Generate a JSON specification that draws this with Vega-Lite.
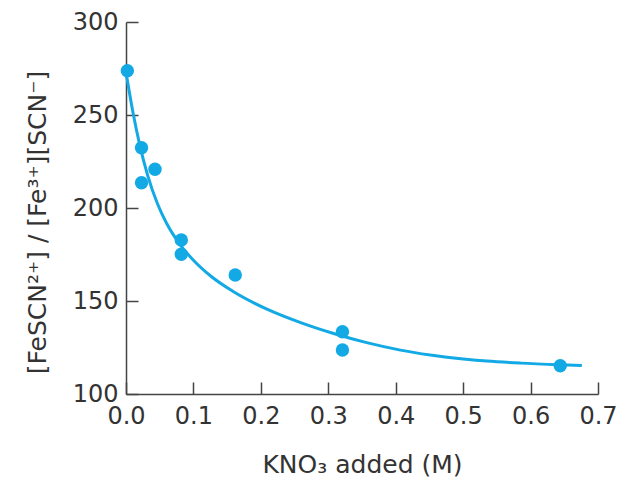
{
  "$schema": "https://vega.github.io/schema/vega-lite/v6.json",
  "width": 472,
  "height": 372,
  "autosize": "none",
  "padding": {"left": 126, "top": 22, "right": 21, "bottom": 89},
  "background": "white",
  "config": {
    "view": {"stroke": null},
    "axis": {
      "grid": false,
      "domainColor": "#444",
      "domainWidth": 1.5,
      "tickColor": "#444",
      "tickWidth": 1.5,
      "tickSize": -12,
      "labelFont": "DejaVu Sans",
      "labelFontSize": 24,
      "labelColor": "#333",
      "labelFlush": false,
      "labelOverlap": false,
      "titleFont": "DejaVu Sans",
      "titleFontSize": 25,
      "titleFontWeight": "normal",
      "titleColor": "#333"
    }
  },
  "datasets": {
    "pts": [
      {"x": 0.002, "y": 273.8},
      {"x": 0.023, "y": 232.4},
      {"x": 0.043, "y": 220.8},
      {"x": 0.023, "y": 213.6},
      {"x": 0.082, "y": 182.8},
      {"x": 0.082, "y": 175.1},
      {"x": 0.162, "y": 164.0},
      {"x": 0.321, "y": 133.5},
      {"x": 0.321, "y": 123.7},
      {"x": 0.644, "y": 115.2}
    ],
    "fit": [
      {"x": 0.0, "y": 273},
      {"x": 0.01, "y": 252},
      {"x": 0.02, "y": 234.5},
      {"x": 0.032, "y": 217.7},
      {"x": 0.047, "y": 202.0},
      {"x": 0.06, "y": 191.9},
      {"x": 0.079, "y": 180.9},
      {"x": 0.10, "y": 171.9},
      {"x": 0.126, "y": 163.3},
      {"x": 0.159, "y": 155.1},
      {"x": 0.209, "y": 145.6},
      {"x": 0.258, "y": 138.5},
      {"x": 0.308, "y": 132.5},
      {"x": 0.357, "y": 127.6},
      {"x": 0.407, "y": 123.6},
      {"x": 0.476, "y": 119.8},
      {"x": 0.535, "y": 117.7},
      {"x": 0.585, "y": 116.6},
      {"x": 0.644, "y": 115.7},
      {"x": 0.676, "y": 115.3}
    ]
  },
  "layer": [
    {
      "data": {"name": "fit"},
      "mark": {"type": "line", "color": "#12a9e5", "strokeWidth": 3, "interpolate": "monotone"},
      "encoding": {
        "x": {
          "field": "x", "type": "quantitative",
          "scale": {"domain": [0, 0.7], "nice": false},
          "axis": {
            "values": [0, 0.1, 0.2, 0.3, 0.4, 0.5, 0.6, 0.7],
            "format": ".1f",
            "labelPadding": 22,
            "title": "KNO₃ added (M)",
            "titleBaseline": "alphabetic",
            "titleY": 78
          }
        },
        "y": {
          "field": "y", "type": "quantitative",
          "scale": {"domain": [100, 300], "nice": false, "zero": false},
          "axis": {
            "values": [100, 150, 200, 250, 300],
            "labelPadding": 20,
            "title": "[FeSCN²⁺] / [Fe³⁺][SCN⁻]",
            "titleAngle": -90,
            "titleBaseline": "alphabetic",
            "titleAlign": "center",
            "titleX": -81,
            "titleY": 200
          }
        }
      }
    },
    {
      "data": {"name": "pts"},
      "mark": {"type": "point", "filled": true, "opacity": 1, "color": "#12a9e5", "size": 180},
      "encoding": {
        "x": {"field": "x", "type": "quantitative"},
        "y": {"field": "y", "type": "quantitative"}
      }
    }
  ]
}
